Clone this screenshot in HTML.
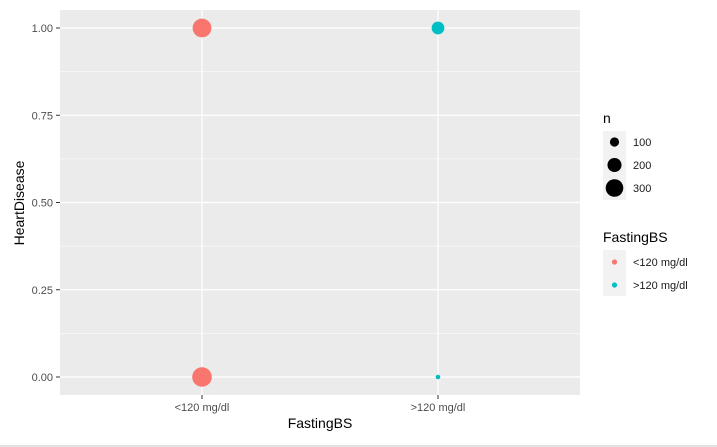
<!DOCTYPE html>
<html><head><meta charset="utf-8"><style>
body{margin:0;background:#fff;}
svg{display:block;font-family:"Liberation Sans",Arial,sans-serif;}
</style></head><body>
<svg id="chart" width="717" height="447">
<rect x="0" y="0" width="717" height="447" fill="#fff"/>
<line x1="0" y1="446" x2="717" y2="446" stroke="#d9d9d9" stroke-width="1.5"/>
<rect x="60" y="10" width="520" height="385" fill="#ebebeb"/>
<g id="grid"></g>
<g id="axes"></g>
<g id="points"></g>
<text x="320" y="428" font-size="14" text-anchor="middle" fill="#000">FastingBS</text>
<text transform="translate(24,203) rotate(-90)" font-size="14" text-anchor="middle" fill="#000">HeartDisease</text>
<g id="legend"></g>
</svg>
<script>
const categories = ["<120 mg/dl", ">120 mg/dl"];
const heartDisease = [1, 0, 1, 0];
const pointCat = [0, 0, 1, 1];
const counts = [338, 366, 170, 44];
const yTicks = [0, 0.25, 0.5, 0.75, 1];
const yTickLabels = ["0.00", "0.25", "0.50", "0.75", "1.00"];
const sizeLegend = [100, 200, 300];
const colors = ["#F8766D", "#00BFC4"];

const NS = "http://www.w3.org/2000/svg";
function mk(tag, attrs, parent){const e=document.createElementNS(NS,tag);for(const k in attrs)e.setAttribute(k,attrs[k]);parent.appendChild(e);return e;}
const xPos = i => 202 + i * 236;
const yPos = v => 377 - v * 349;
const nMin = Math.min(...counts), nMax = Math.max(...counts);
const rMin = 2.3, rMax = 9.8;
const rScale = n => Math.sqrt(rMin*rMin + (rMax*rMax - rMin*rMin) * (n - nMin) / (nMax - nMin));

const grid = document.getElementById('grid');
for (let i = 0; i < yTicks.length - 1; i++) {
  const l = mk('line', {x1:60, x2:580, y1:yPos((yTicks[i]+yTicks[i+1])/2), y2:yPos((yTicks[i]+yTicks[i+1])/2), stroke:'#fff', 'stroke-width':0.6}, grid);
  
  
}
yTicks.forEach(v => {
  const l = mk('line', {x1:60, x2:580, y1:yPos(v), y2:yPos(v), stroke:'#fff', 'stroke-width':1.2}, grid);
  
  
});
categories.forEach((c, i) => {
  const l = mk('line', {x1:xPos(i), x2:xPos(i), y1:10, y2:395, stroke:'#fff', 'stroke-width':1.2}, grid);
  
  
});

const axes = document.getElementById('axes');
yTicks.forEach((v, i) => {
  mk('line', {x1:56, x2:60, y1:yPos(v), y2:yPos(v), stroke:'#333', 'stroke-width':1}, axes);
  const t = mk('text', {x:53, y:yPos(v)+4, 'font-size':11, 'text-anchor':'end', fill:'#4d4d4d'}, axes);
  t.textContent = yTickLabels[i];
  
  
});
categories.forEach((c, i) => {
  mk('line', {x1:xPos(i), x2:xPos(i), y1:395, y2:399, stroke:'#333', 'stroke-width':1}, axes);
  const t = mk('text', {x:xPos(i), y:411, 'font-size':11, 'text-anchor':'middle', fill:'#4d4d4d'}, axes);
  t.textContent = c;
  
  
});

const pts = document.getElementById('points');
counts.forEach((n, i) => {
  const c = mk('circle', {cx:xPos(pointCat[i]), cy:yPos(heartDisease[i]), r:rScale(n), fill:colors[pointCat[i]]}, pts);
  
  
});

const lg = document.getElementById('legend');
let t = mk('text', {x:603, y:123, 'font-size':14, fill:'#000'}, lg); t.textContent = 'n';


mk('rect', {x:603, y:131, width:23, height:69, fill:'#f2f2f2'}, lg);
sizeLegend.forEach((n, i) => {
  const y = 142 + i * 23;
  const c = mk('circle', {cx:614.5, cy:y, r:rScale(n), fill:'#000'}, lg);
  
  
  const tx = mk('text', {x:633, y:y+4, 'font-size':11, fill:'#1a1a1a'}, lg); tx.textContent = n;
  
  
});
t = mk('text', {x:603, y:242, 'font-size':14, fill:'#000'}, lg); t.textContent = 'FastingBS';


mk('rect', {x:603, y:250, width:23, height:46, fill:'#f2f2f2'}, lg);
categories.forEach((c, i) => {
  const y = 262 + i * 23;
  const k = mk('circle', {cx:614.5, cy:y, r:2.6, fill:colors[i]}, lg);
  
  
  const tx = mk('text', {x:633, y:y+4, 'font-size':11, fill:'#1a1a1a'}, lg); tx.textContent = c;
  
  
});
</script>
</body></html>
